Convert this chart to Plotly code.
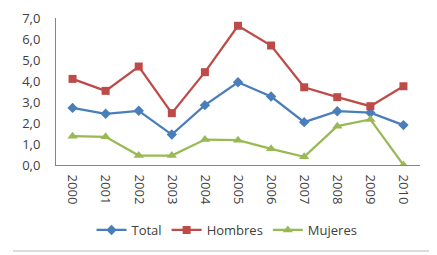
import plotly.graph_objects as go

years = ["2000", "2001", "2002", "2003", "2004", "2005", "2006", "2007", "2008", "2009", "2010"]
total = [2.72, 2.44, 2.58, 1.45, 2.85, 3.94, 3.26, 2.04, 2.56, 2.49, 1.90]
hombres = [4.10, 3.53, 4.69, 2.47, 4.42, 6.63, 5.69, 3.70, 3.23, 2.80, 3.75]
mujeres = [1.37, 1.34, 0.45, 0.45, 1.21, 1.18, 0.77, 0.39, 1.85, 2.17, 0.00]

# page body has an 8px margin; work in window pixels and convert
OFF = 8
W, H = 437 - OFF, 255 - OFF
L, R, T, B = 56 - OFF, 17, 18 - OFF, 90
pw, ph = W - L - R, H - T - B

def px_x(x):
    return (x - OFF - L) / pw

def px_y(y):
    return (H - B - (y - OFF)) / ph

fig = go.Figure()
series = [
    ("Total", total, "#4A7EBB", "diamond", 8),
    ("Hombres", hombres, "#BE4B48", "square", 8),
    ("Mujeres", mujeres, "#98B954", "triangle-up", 9),
]
for name, vals, col, sym, sz in series:
    fig.add_trace(go.Scatter(
        x=years, y=vals, name=name, mode="lines+markers",
        line=dict(color=col, width=2.25),
        marker=dict(symbol=sym, size=sz, color=col),
    ))

fig.update_layout(
    width=W, height=H,
    margin=dict(l=L, r=R, t=T, b=B, autoexpand=False),
    paper_bgcolor="white", plot_bgcolor="white",
    font=dict(family="Open Sans", size=13, color="#404040"),
    separators=",.",
    showlegend=True,
    legend=dict(orientation="h", x=px_x(227), xanchor="center",
                y=px_y(230), yanchor="middle",
                font=dict(size=13, color="#404040"),
                itemwidth=30, tracegroupgap=0),
    shapes=[dict(type="line", xref="paper", yref="paper",
                 x0=px_x(13), x1=px_x(436), y0=px_y(251), y1=px_y(251),
                 line=dict(color="#D0D0D0", width=1.5))],
)
fig.update_xaxes(type="category", range=[-0.5, 10.5], tickangle=90,
                 showline=True, linecolor="#868686", linewidth=1,
                 showgrid=False, ticks="", automargin=False,
                 ticklabelstandoff=6,
                 tickfont=dict(size=13, color="#404040"))
fig.update_yaxes(range=[0, 7], dtick=1, tickformat=".1f",
                 showline=True, linecolor="#868686", linewidth=1,
                 showgrid=False, zeroline=False, ticks="", automargin=False,
                 ticklabelstandoff=12,
                 tickfont=dict(size=13, color="#404040"))

fig.write_html("out.html")
